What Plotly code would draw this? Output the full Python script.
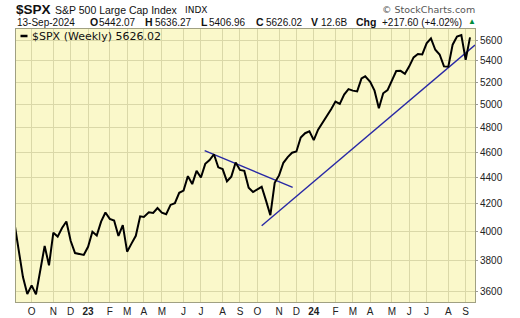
import plotly.graph_objects as go

# ---------------- data ----------------
week_dates = [
    "2022-09-09", "2022-09-16", "2022-09-23", "2022-09-30", "2022-10-07", "2022-10-14",
    "2022-10-21", "2022-10-28", "2022-11-04", "2022-11-11", "2022-11-18", "2022-11-25",
    "2022-12-02", "2022-12-09", "2022-12-16", "2022-12-23", "2022-12-30", "2023-01-06",
    "2023-01-13", "2023-01-20", "2023-01-27", "2023-02-03", "2023-02-10", "2023-02-17",
    "2023-02-24", "2023-03-03", "2023-03-10", "2023-03-17", "2023-03-24", "2023-03-31",
    "2023-04-06", "2023-04-14", "2023-04-21", "2023-04-28", "2023-05-05", "2023-05-12",
    "2023-05-19", "2023-05-26", "2023-06-02", "2023-06-09", "2023-06-16", "2023-06-23",
    "2023-06-30", "2023-07-07", "2023-07-14", "2023-07-21", "2023-07-28", "2023-08-04",
    "2023-08-11", "2023-08-18", "2023-08-25", "2023-09-01", "2023-09-08", "2023-09-15",
    "2023-09-22", "2023-09-29", "2023-10-06", "2023-10-13", "2023-10-20", "2023-10-27",
    "2023-11-03", "2023-11-10", "2023-11-17", "2023-11-24", "2023-12-01", "2023-12-08",
    "2023-12-15", "2023-12-22", "2023-12-29", "2024-01-05", "2024-01-12", "2024-01-19",
    "2024-01-26", "2024-02-02", "2024-02-09", "2024-02-16", "2024-02-23", "2024-03-01",
    "2024-03-08", "2024-03-15", "2024-03-22", "2024-03-28", "2024-04-05", "2024-04-12",
    "2024-04-19", "2024-04-26", "2024-05-03", "2024-05-10", "2024-05-17", "2024-05-24",
    "2024-05-31", "2024-06-07", "2024-06-14", "2024-06-21", "2024-06-28", "2024-07-05",
    "2024-07-12", "2024-07-19", "2024-07-26", "2024-08-02", "2024-08-09", "2024-08-16",
    "2024-08-23", "2024-08-30", "2024-09-06", "2024-09-13",
]
spx_close = [
    4067.36, 3873.33, 3693.23, 3585.62, 3639.66, 3583.07,
    3752.75, 3901.06, 3770.55, 3992.93, 3965.34, 4026.12,
    4071.70, 3934.38, 3852.36, 3844.82, 3839.50, 3895.08,
    3999.09, 3972.61, 4070.56, 4136.48, 4090.46, 4079.09,
    3970.04, 4045.64, 3861.59, 3916.64, 3970.99, 4109.31,
    4105.02, 4137.64, 4133.52, 4169.48, 4136.25, 4124.08,
    4191.98, 4205.45, 4282.37, 4298.86, 4409.59, 4348.33,
    4450.38, 4398.95, 4505.42, 4536.34, 4582.23, 4478.03,
    4464.05, 4369.71, 4405.71, 4515.77, 4457.49, 4450.32,
    4320.06, 4288.05, 4308.50, 4327.78, 4224.16, 4117.37,
    4358.34, 4415.24, 4514.02, 4559.34, 4594.63, 4604.37,
    4719.19, 4754.63, 4769.83, 4697.24, 4783.83, 4839.81,
    4890.97, 4958.61, 5026.61, 5005.57, 5088.80, 5137.08,
    5123.69, 5117.09, 5234.18, 5254.35, 5204.34, 5123.41,
    4967.23, 5099.96, 5127.79, 5222.68, 5303.27, 5304.72,
    5277.51, 5346.99, 5431.60, 5464.62, 5460.48, 5567.19,
    5615.35, 5505.00, 5459.10, 5346.56, 5344.16, 5554.25,
    5634.61, 5648.40, 5408.42, 5626.02,
]

# trend lines (drawn by the chartist)
trend_down_dates = ["2023-07-13", "2023-12-02"]
trend_down_vals = [4611, 4324]
trend_up_dates = ["2023-10-13", "2024-09-21"]
trend_up_vals = [4042, 5551]

# axis ticks
x_tick_dates = [
    "2022-10-07", "2022-11-11", "2022-12-09", "2023-01-06", "2023-02-10", "2023-03-10",
    "2023-04-06", "2023-05-05", "2023-06-09", "2023-07-07", "2023-08-11", "2023-09-08",
    "2023-10-06", "2023-11-10", "2023-12-08", "2024-01-05", "2024-02-09", "2024-03-08",
    "2024-04-05", "2024-05-10", "2024-06-07", "2024-07-05", "2024-08-09", "2024-09-06",
]
x_tick_labels = ["O", "N", "D", "<b>23</b>", "F", "M", "A", "M", "J", "J", "A", "S",
                 "O", "N", "D", "<b>24</b>", "F", "M", "A", "M", "J", "J", "A", "S"]
y_tick_vals = [3600, 3800, 4000, 4200, 4400, 4600, 4800, 5000, 5200, 5400, 5600]
y_tick_labels = [str(v) for v in y_tick_vals]

x_range = ["2022-09-11 18:30", "2024-09-21 01:00"]
y_range_log = [3.54842, 3.75658]

# ---------------- figure ----------------
W, H = 520, 318
ML, MR, MT, MB = 16, 45, 29, 16
PW, PH = W - ML - MR, H - MT - MB


def px(x):
    return (x - ML) / PW


def py(y):
    return (H - MB - y) / PH


fig = go.Figure()
fig.add_trace(go.Scatter(x=trend_down_dates, y=trend_down_vals, mode="lines",
                         line=dict(color="rgb(40,40,165)", width=1.4), hoverinfo="skip"))
fig.add_trace(go.Scatter(x=trend_up_dates, y=trend_up_vals, mode="lines",
                         line=dict(color="rgb(40,40,165)", width=1.4), hoverinfo="skip"))
fig.add_trace(go.Scatter(x=week_dates, y=spx_close, mode="lines",
                         line=dict(color="black", width=2)))

grid = "rgb(218,216,168)"
border = "rgb(160,160,130)"
fig.update_layout(
    width=W, height=H,
    margin=dict(l=ML, r=MR, t=MT, b=MB, autoexpand=False),
    paper_bgcolor="white",
    plot_bgcolor="rgb(250,248,202)",
    showlegend=False,
    font=dict(family="Liberation Sans, Arial", size=10, color="#222"),
    xaxis=dict(
        type="date", range=x_range, automargin=False,
        tickmode="array", tickvals=x_tick_dates, ticktext=x_tick_labels,
        showgrid=True, gridcolor=grid, gridwidth=1,
        showline=True, linecolor=border, mirror=True, linewidth=1,
        ticks="", tickfont=dict(size=10, color="#222"),
        zeroline=False,
    ),
    yaxis=dict(
        type="log", range=y_range_log, side="right", automargin=False,
        tickmode="array", tickvals=y_tick_vals, ticktext=y_tick_labels,
        showgrid=True, gridcolor=grid, gridwidth=1,
        showline=True, linecolor=border, mirror=True, linewidth=1,
        ticks="outside", ticklen=2, tickcolor="#999",
        tickfont=dict(size=10, color="#222"),
        zeroline=False,
    ),
)

anns = []


def ann(x, y, text, size, family="Liberation Sans, Arial", color="#111", anchor="left"):
    anns.append(dict(xref="paper", yref="paper", x=px(x), y=py(y), text=text,
                     showarrow=False, xanchor=anchor, yanchor="middle",
                     font=dict(family=family, size=size, color=color), borderpad=0))


# header line 1
ann(15, 9, "<b>$SPX</b>", 13.5)
ann(54, 9.5, "S&P 500 Large Cap Index", 10.5)
ann(184, 9.5, "INDX", 9, family="DejaVu Sans")
ann(476, 9.5, "© StockCharts.com", 9.5, family="DejaVu Sans", color="#555", anchor="right")
# header line 2
y2 = 22
ann(16, y2, "13-Sep-2024", 10)
ann(89, y2, "<b>O</b>", 10.5)
ann(98, y2, "5442.07", 10)
ann(144, y2, "<b>H</b>", 10.5)
ann(154, y2, "5636.27", 10)
ann(200, y2, "<b>L</b>", 10.5)
ann(208, y2, "5406.96", 10)
ann(255, y2, "<b>C</b>", 10.5)
ann(265, y2, "5626.02", 10)
ann(310, y2, "<b>V</b>", 10.5)
ann(320, y2, "12.6B", 10)
ann(355, y2, "<b>Chg</b>", 10.5)
ann(381, y2, "+217.60 (+4.02%)", 10)
ann(467, y2 - 1, "▲", 8, color="rgb(0,140,60)")
# legend
ann(31, 36, "$SPX (Weekly) 5626.02", 11, family="DejaVu Sans")
fig.update_layout(annotations=anns)
fig.add_shape(type="line", xref="paper", yref="paper",
              x0=px(20.5), x1=px(27.5), y0=py(36), y1=py(36),
              line=dict(color="black", width=2.5))

fig.write_html("out.html")
